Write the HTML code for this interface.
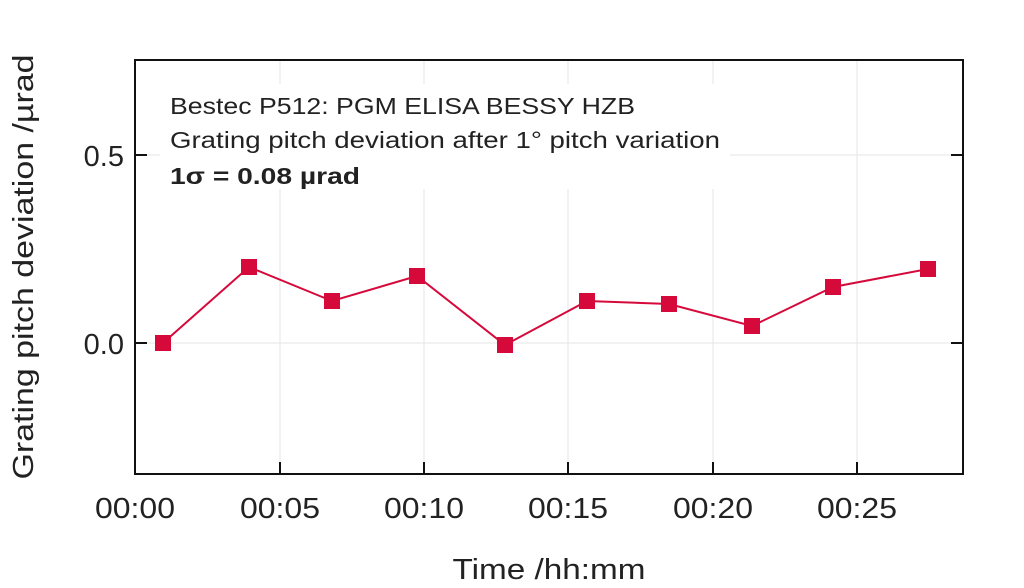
<!DOCTYPE html><html><head><style>body{margin:0;background:#fff}svg{display:block}text{font-family:"Liberation Sans",sans-serif}</style></head><body>
<svg width="1024" height="588" xmlns="http://www.w3.org/2000/svg">
<g stroke="#e6e6e6" stroke-width="1">
<line x1="280" y1="60" x2="280" y2="474"/><line x1="424" y1="60" x2="424" y2="474"/><line x1="568" y1="60" x2="568" y2="474"/><line x1="713" y1="60" x2="713" y2="474"/><line x1="857" y1="60" x2="857" y2="474"/>
<line x1="135" y1="155" x2="963" y2="155"/><line x1="135" y1="343" x2="963" y2="343"/>
</g>
<rect x="160" y="84" width="570" height="105" fill="#fff"/>
<rect x="135" y="60" width="828" height="414" fill="none" stroke="#111" stroke-width="2"/>
<g stroke="#111" stroke-width="2">
<line x1="135" y1="155" x2="147" y2="155"/><line x1="135" y1="343" x2="147" y2="343"/>
<line x1="963" y1="155" x2="951" y2="155"/><line x1="963" y1="343" x2="951" y2="343"/>
<line x1="280" y1="474" x2="280" y2="462"/><line x1="424" y1="474" x2="424" y2="462"/><line x1="568" y1="474" x2="568" y2="462"/><line x1="713" y1="474" x2="713" y2="462"/><line x1="857" y1="474" x2="857" y2="462"/>
</g>
<polyline fill="none" stroke="#d6093b" stroke-width="2" points="163,343 249,267 332,301 417,276 505,345 587,301 669,304 752,326 833,287 928,269"/>
<g fill="#d6093b">
<rect x="155" y="335" width="16" height="16"/><rect x="241" y="259" width="16" height="16"/><rect x="324" y="293" width="16" height="16"/><rect x="409" y="268" width="16" height="16"/><rect x="497" y="337" width="16" height="16"/><rect x="579" y="293" width="16" height="16"/><rect x="661" y="296" width="16" height="16"/><rect x="744" y="318" width="16" height="16"/><rect x="825" y="279" width="16" height="16"/><rect x="920" y="261" width="16" height="16"/>
</g>
<g font-size="23" fill="#222">
<text x="170" y="114" textLength="465" lengthAdjust="spacingAndGlyphs">Bestec P512: PGM ELISA BESSY HZB</text>
<text x="170" y="148" textLength="550" lengthAdjust="spacingAndGlyphs">Grating pitch deviation after 1° pitch variation</text>
<text x="170" y="184" font-weight="bold" textLength="190" lengthAdjust="spacingAndGlyphs">1σ = 0.08 µrad</text>
</g>
<g font-size="29" fill="#222" text-anchor="end">
<text x="124" y="166">0.5</text><text x="124" y="354">0.0</text>
</g>
<g font-size="29" fill="#222" text-anchor="middle">
<text x="135" y="518" textLength="80" lengthAdjust="spacingAndGlyphs">00:00</text><text x="280" y="518" textLength="80" lengthAdjust="spacingAndGlyphs">00:05</text><text x="424" y="518" textLength="80" lengthAdjust="spacingAndGlyphs">00:10</text><text x="568" y="518" textLength="80" lengthAdjust="spacingAndGlyphs">00:15</text><text x="713" y="518" textLength="80" lengthAdjust="spacingAndGlyphs">00:20</text><text x="857" y="518" textLength="80" lengthAdjust="spacingAndGlyphs">00:25</text>
<text x="549" y="579" textLength="193" lengthAdjust="spacingAndGlyphs">Time /hh:mm</text>
<text transform="translate(33,267) rotate(-90)" textLength="425" lengthAdjust="spacingAndGlyphs">Grating pitch deviation /µrad</text>
</g>
</svg></body></html>
